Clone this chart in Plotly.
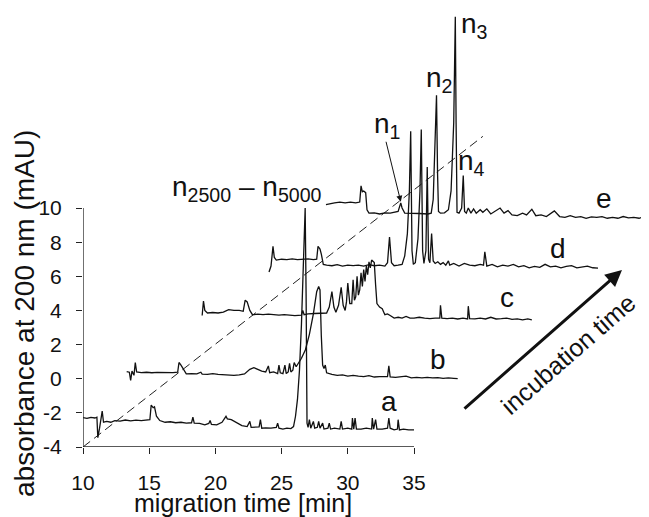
import plotly.graph_objects as go

# ---------------- data (chart coordinates, traces already offset) ----------------
a_t = [10.0, 10.3, 10.6, 10.9, 11.05, 11.12, 11.25, 11.45, 11.55, 11.8, 12.1, 12.4, 12.8, 13.2, 13.6, 14.0,
       14.4, 14.8, 15.05, 15.15, 15.3, 15.4, 15.55, 15.8, 16.2, 16.6, 17.0, 17.4, 17.8, 18.2, 18.3, 18.4,
       18.8, 19.2, 19.5, 19.6, 19.7, 20.1, 20.5, 20.8, 20.9, 21.2, 21.6, 22.0, 22.4, 22.6, 22.7, 23.0,
       23.3, 23.4, 23.5, 23.8, 24.2, 24.6, 24.7, 24.8, 25.1, 25.4, 25.7, 25.9, 26.05, 26.2, 26.35, 26.5,
       26.65, 26.78, 26.85, 26.92, 27.0, 27.1, 27.2, 27.4, 27.5, 27.7, 27.8, 27.9, 28.1, 28.2, 28.5, 28.6,
       28.7, 29.0, 29.4, 29.5, 29.6, 30.0, 30.3, 30.35, 30.45, 30.55, 30.65, 31.0, 31.4, 31.8, 31.85, 31.95,
       32.1, 32.2, 32.6, 33.0, 33.1, 33.2, 33.5, 33.75, 33.8, 33.9, 34.2, 34.6, 35.0]
a_v = [-2.28, -2.32, -2.26, -2.30, -2.25, -3.45, -2.9, -1.9, -2.55, -2.5, -2.55, -2.45, -2.48, -2.42, -2.47, -2.42,
       -2.45, -2.42, -2.4, -1.55, -1.7, -1.65, -2.2, -2.45, -2.55, -2.52, -2.58, -2.55, -2.6, -2.58, -2.25, -2.6,
       -2.62, -2.7, -2.62, -2.45, -2.68, -2.7, -2.55, -2.2, -2.35, -2.4, -2.6, -2.75, -2.8, -2.5, -2.85, -2.85,
       -2.82, -2.4, -2.9, -2.88, -2.9, -2.85, -2.6, -2.9, -2.95, -2.9, -2.92, -2.8, -2.2, -1.2, 0.5, 3.2,
       6.5, 10.0, 5.0, -2.6, -2.85, -2.4, -2.9, -2.5, -2.9, -2.85, -2.5, -2.9, -2.6, -2.95, -2.9, -2.6,
       -2.95, -2.9, -2.95, -2.5, -2.95, -2.9, -2.95, -2.3, -2.95, -2.3, -2.95, -2.95, -2.9, -2.95, -2.3, -2.95,
       -2.4, -2.95, -2.95, -2.9, -2.3, -2.9, -3.0, -2.95, -2.4, -3.0, -2.95, -3.0, -3.0]

b_t = [13.3, 13.5, 13.6, 13.7, 13.85, 13.95, 14.05, 14.4, 14.8, 15.2, 15.6, 16.0, 16.4, 16.8, 17.15, 17.25,
       17.4, 17.6, 17.8, 18.2, 18.6, 18.9, 19.0, 19.4, 19.8, 20.2, 20.6, 21.0, 21.4, 21.8, 22.2, 22.6,
       22.9, 23.2, 23.5, 23.8, 24.0, 24.1, 24.4, 24.7, 24.8, 24.9, 25.1, 25.25, 25.35, 25.5, 25.6, 25.7,
       25.85, 25.95, 26.1, 26.3, 26.5, 26.8, 27.1, 27.4, 27.65, 27.8, 27.9, 28.0, 28.1, 28.2, 28.3, 28.4,
       28.8, 29.2, 29.6, 30.0, 30.4, 30.8, 31.2, 31.6, 32.0, 32.4, 32.8, 33.0, 33.1, 33.2, 33.6, 34.0,
       34.4, 34.8, 35.2, 35.6, 36.0, 36.4, 36.8, 37.2, 37.6, 38.0, 38.3]
b_v = [0.42, 0.38, -0.1, 0.45, 0.2, 0.95, 0.4, 0.36, 0.38, 0.35, 0.37, 0.36, 0.38, 0.36, 0.38, 0.95,
       0.8, 0.5, 0.28, 0.3, 0.28, 0.38, 0.27, 0.25, 0.3, 0.25, 0.23, 0.25, 0.2, 0.22, 0.28, 0.55,
       0.65, 0.55, 0.45, 0.4, 0.75, 0.35, 0.4, 0.3, 0.8, 0.35, 0.3, 0.8, 0.3, 0.4, 0.9, 0.4,
       0.5, 0.95, 0.7, 0.95, 1.2, 1.7, 2.6, 3.8, 5.1, 5.4, 5.2, 2.5, 0.8, 0.6, 0.8, 0.35,
       0.25, 0.2, 0.22, 0.15, 0.2, 0.15, 0.12, 0.18, 0.1, 0.12, 0.1, 0.12, 0.75, 0.1, 0.08, 0.12,
       0.15, 0.05, 0.08, 0.05, 0.08, 0.05, 0.06, 0.02, 0.05, 0.02, 0.0]

c_t = [19.0, 19.1, 19.2, 19.4, 19.8, 20.2, 20.6, 21.0, 21.4, 21.8, 22.1, 22.25, 22.4, 22.6, 22.8, 23.2,
       23.6, 24.0, 24.4, 24.8, 25.2, 25.6, 26.0, 26.5, 26.6, 26.7, 27.0, 27.5, 28.0, 28.4, 28.6, 28.8,
       28.95, 29.1, 29.3, 29.5, 29.65, 29.8, 29.9, 30.0, 30.15, 30.3, 30.4, 30.5, 30.6, 30.7, 30.8, 30.9,
       31.0, 31.1, 31.2, 31.3, 31.4, 31.5, 31.6, 31.7, 31.8, 32.0, 32.1, 32.2, 32.4, 32.6, 32.8, 33.0,
       33.2, 33.5, 33.8, 34.1, 34.4, 34.7, 35.0, 35.4, 35.8, 36.2, 36.6, 36.95, 37.0, 37.1, 37.5, 37.9,
       38.3, 38.7, 39.05, 39.1, 39.2, 39.6, 40.0, 40.4, 40.8, 41.2, 41.6, 42.0, 42.4, 42.8, 43.2, 43.6, 43.9]
c_v = [3.7, 4.55, 4.0, 3.85, 3.88, 3.85, 3.9, 4.05, 4.0, 4.0, 3.95, 4.6, 4.5, 4.0, 3.75, 3.78,
       3.75, 3.78, 3.75, 3.72, 3.75, 3.72, 3.7, 3.72, 4.0, 3.75, 3.8, 3.82, 3.85, 3.85, 4.2, 5.1,
       4.2, 3.9, 4.3, 5.35, 4.3, 4.0, 4.5, 5.6, 4.4, 4.4, 5.8, 4.6, 4.8, 6.0, 4.9, 5.2,
       6.2, 5.4, 6.4, 5.7, 6.6, 6.1, 6.85, 6.5, 6.95, 6.8, 5.5, 4.4, 4.2, 4.1, 3.75, 3.8,
       3.7, 3.55, 3.6, 3.55, 3.65, 3.55, 3.55, 3.6, 3.55, 3.52, 3.55, 3.55, 4.3, 3.55, 3.52, 3.55,
       3.5, 3.55, 3.5, 4.25, 3.52, 3.5, 3.55, 3.5, 3.6, 3.5, 3.52, 3.55, 3.48, 3.5, 3.45, 3.5, 3.45]

d_t = [24.05, 24.2, 24.35, 24.45, 24.6, 25.0, 25.4, 25.8, 26.2, 26.6, 27.0, 27.4, 27.65, 27.75, 27.9, 28.0,
       28.15, 28.4, 28.8, 29.2, 29.6, 30.0, 30.4, 30.8, 31.2, 31.6, 32.0, 32.4, 32.8, 33.0, 33.15, 33.3,
       33.5, 33.8, 34.1, 34.3, 34.5, 34.65, 34.75, 34.85, 34.95, 35.1, 35.3, 35.45, 35.55, 35.65, 35.75, 35.9,
       36.0, 36.1, 36.2, 36.33, 36.45, 36.6, 36.8, 37.0, 37.2, 37.4, 37.6, 37.7, 38.0, 38.4, 38.8, 39.2,
       39.6, 40.0, 40.25, 40.35, 40.5, 40.9, 41.3, 41.7, 42.1, 42.5, 42.9, 43.3, 43.7, 44.1, 44.5, 44.9,
       45.3, 45.7, 46.1, 46.5, 46.9, 47.3, 47.7, 48.1, 48.5, 48.9]
d_v = [6.25, 6.6, 7.75, 7.1, 6.95, 7.0, 6.98, 7.02, 6.98, 7.0, 7.02, 6.98, 7.0, 7.75, 7.6, 7.3,
       6.7, 6.65, 6.62, 6.68, 6.6, 6.65, 6.62, 6.65, 6.6, 6.68, 6.62, 6.65, 6.6, 6.8, 8.3, 6.8,
       6.62, 6.65, 6.7, 7.2, 8.5, 11.0, 14.5, 7.5, 6.7, 6.8, 8.2, 11.0, 14.6, 7.5, 6.75, 7.5,
       12.4, 7.0, 6.8, 8.5, 6.9, 6.75, 6.85, 6.7, 6.8, 6.65, 6.9, 6.65, 6.75, 6.6, 6.75, 6.65,
       6.62, 6.7, 6.65, 7.44, 6.6, 6.7, 6.55, 6.65, 6.6, 6.7, 6.55, 6.62, 6.5, 6.58, 6.52, 6.7,
       6.55, 6.6, 6.5, 6.58, 6.62, 6.5, 6.55, 6.6, 6.5, 6.48]

e_t = [28.35, 28.6, 29.0, 29.4, 29.8, 30.2, 30.6, 30.9, 31.0, 31.1, 31.2, 31.35, 31.45, 31.6, 32.0, 32.4,
       32.8, 33.2, 33.5, 33.8, 34.0, 34.1, 34.3, 34.8, 35.4, 36.05, 36.3, 36.45, 36.6, 36.7, 36.78, 36.85,
       37.0, 37.3, 37.6, 37.8, 38.0, 38.12, 38.18, 38.25, 38.4, 38.6, 38.72, 38.82, 38.95, 39.1, 39.3, 39.5,
       39.7, 40.0, 40.2, 40.5, 40.8, 41.1, 41.5, 41.8, 42.1, 42.4, 42.8, 43.2, 43.5, 43.9, 44.2, 44.6,
       45.0, 45.6, 46.0, 46.4, 46.8, 47.2, 47.6, 48.0, 48.4, 48.8, 49.2, 49.6, 50.0, 50.4, 50.8, 51.2,
       51.6, 52.0, 52.4, 52.75]
e_v = [10.2, 10.25, 10.3, 10.35, 10.3, 10.35, 10.3, 10.35, 11.3, 10.95, 11.0, 10.9, 9.9, 9.7, 9.72, 9.65,
       9.72, 9.7, 9.75, 9.8, 10.3, 10.0, 9.7, 9.7, 9.68, 9.65, 9.7, 10.5, 13.5, 16.6, 12.0, 9.8,
       9.7, 9.72, 9.9, 11.0, 15.0, 21.2, 15.0, 9.75, 9.7, 10.0, 11.9, 9.8, 9.7, 10.0, 9.7, 9.95,
       9.7, 9.9, 9.75, 9.95, 9.65, 9.8, 10.0, 9.7, 9.85, 9.6, 9.55, 9.7, 9.6, 9.93, 9.55, 9.6,
       9.5, 9.83, 9.5, 9.45, 9.55, 9.45, 9.5, 9.4, 9.48, 9.45, 9.5, 9.4, 9.45, 9.4, 9.5, 9.42,
       9.45, 9.4, 9.5, 9.6]

traces = [("a", a_t, a_v), ("b", b_t, b_v), ("c", c_t, c_v), ("d", d_t, d_v), ("e", e_t, e_v)]

x_ticks = [10, 15, 20, 25, 30, 35]
y_ticks = [-4, -2, 0, 2, 4, 6, 8, 10]
y_tick_text = ["-4", "-2", "0", "2", "4", "6", "8", "10"]
guide_t = [10, 40.2]
guide_v = [-4, 14.2]

FONT = "Liberation Sans, Arial, Helvetica, sans-serif"

# The page body keeps its default 8px margin, so the figure is sized to fit inside it.
FIG_W, FIG_H = 641, 509
M_L, M_R, M_T, M_B = 75, 0, 0, 70
PLOT_W = FIG_W - M_L - M_R
PLOT_H = FIG_H - M_T - M_B


def paper(px, py):
    """page pixel -> paper coords of the plot area (plot area starts at page x=83, y=8)."""
    return (px - 8 - M_L) / PLOT_W, 1 - (py - 8 - M_T) / PLOT_H


fig = go.Figure()
fig.add_trace(go.Scatter(x=guide_t, y=guide_v, mode="lines",
                         line=dict(color="#222", width=1, dash="9px,5px"), hoverinfo="skip"))
for name, t, v in traces:
    fig.add_trace(go.Scatter(x=t, y=v, mode="lines", name=name,
                             line=dict(color="#111", width=1.3)))

# axis lines
fig.add_shape(type="line", x0=x_ticks[0], x1=x_ticks[-1], y0=y_ticks[0], y1=y_ticks[0],
              line=dict(color="#222", width=1.3))
fig.add_shape(type="line", x0=x_ticks[0], x1=x_ticks[0], y0=y_ticks[0], y1=y_ticks[-1],
              line=dict(color="#222", width=1.3))

LBL = dict(size=28, color="#111", family=FONT)
anns = [
    ("a", 33.11, -1.35), ("b", 36.85, 1.1), ("c", 42.0, 4.75), ("d", 45.9, 7.6), ("e", 49.35, 10.55),
    ("n<sub>1</sub>", 32.94, 14.86), ("n<sub>2</sub>", 36.9, 17.5), ("n<sub>3</sub>", 39.58, 20.72),
    ("n<sub>4</sub>", 39.34, 12.64), ("n<sub>2500</sub> \u2013 n<sub>5000</sub>", 22.41, 11.17),
]
for txt, x, y in anns:
    fig.add_annotation(x=x, y=y, text=txt, showarrow=False, font=LBL, xanchor="center", yanchor="middle")

# n1 arrow
fig.add_annotation(x=34.0, y=10.37, ax=32.86, ay=13.97, axref="x", ayref="y", text="",
                   showarrow=True, arrowhead=2, arrowsize=1.2, arrowwidth=1, arrowcolor="#111", standoff=0)
# incubation arrow
fig.add_annotation(x=50.71, y=6.37, ax=38.7, ay=-1.83, axref="x", ayref="y", text="",
                   showarrow=True, arrowhead=2, arrowsize=1.1, arrowwidth=3, arrowcolor="#111", standoff=0)
ix, iy = paper(568, 354)
fig.add_annotation(x=ix, y=iy, xref="paper", yref="paper", text="incubation time", textangle=-41,
                   xanchor="center", yanchor="middle",
                   showarrow=False, font=dict(size=25, color="#111", family=FONT))

# axis titles
tx, ty = paper(243, 503)
fig.add_annotation(x=tx, y=ty, xref="paper", yref="paper", text="migration time [min]", showarrow=False,
                   xanchor="center", yanchor="middle", font=dict(size=25, color="#111", family=FONT))
yx, yy = paper(24, 314)
fig.add_annotation(x=yx, y=yy, xref="paper", yref="paper", text="absorbance at 200 nm (mAU)",
                   xanchor="center", yanchor="middle",
                   textangle=-90, showarrow=False, font=dict(size=28, color="#111", family=FONT))

y_top = -4 + PLOT_H / 17.07
fig.update_layout(
    width=FIG_W, height=FIG_H, margin=dict(l=M_L, r=M_R, t=M_T, b=M_B),
    paper_bgcolor="white", plot_bgcolor="white", showlegend=False,
    font=dict(family=FONT, color="#111"),
    xaxis=dict(range=[10, 10 + PLOT_W / 13.24], tickvals=x_ticks, ticks="outside", ticklen=6, tickwidth=1.2,
               tickcolor="#222", showgrid=False, zeroline=False, showline=False,
               tickfont=dict(size=21, family=FONT, color="#111"), ticklabelstandoff=11),
    yaxis=dict(range=[-4, y_top], tickvals=y_ticks, ticktext=y_tick_text, ticks="outside", ticklen=6,
               tickwidth=1.2, tickcolor="#222", showgrid=False, zeroline=False, showline=False,
               tickfont=dict(size=21, family=FONT, color="#111"), ticklabelstandoff=10),
)

fig.write_html("out.html")
